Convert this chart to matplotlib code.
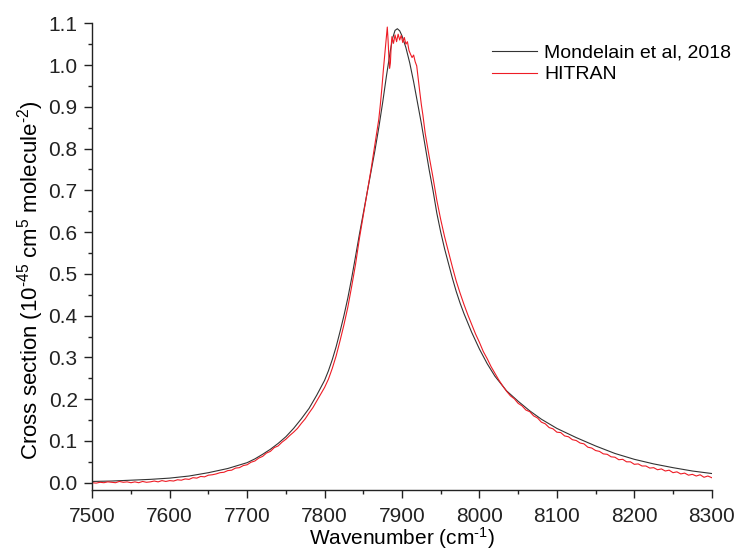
import numpy as np
import matplotlib
matplotlib.use("Agg")
import matplotlib.pyplot as plt
from matplotlib.ticker import MultipleLocator

plt.rcParams['font.family'] = ['Liberation Sans', 'DejaVu Sans']
plt.rcParams['mathtext.fontset'] = 'custom'
plt.rcParams['mathtext.rm'] = 'Liberation Sans'
plt.rcParams['mathtext.it'] = 'Liberation Sans:italic'

# Mondelain et al, 2018 (smooth profile)
mond_x = [7500, 7525, 7550, 7575, 7600, 7625, 7650, 7675, 7700, 7710, 7720, 7730,
          7740, 7750, 7760, 7770, 7780, 7790, 7800, 7805, 7810, 7815, 7820, 7825,
          7830, 7835, 7840, 7845, 7850, 7855, 7860, 7865, 7870, 7875, 7880, 7885,
          7888, 7891, 7894, 7897, 7900, 7905, 7910, 7915, 7920, 7925, 7930, 7935,
          7940, 7945, 7950, 7955, 7960, 7965, 7970, 7975, 7980, 7990, 8000, 8010,
          8020, 8035, 8050, 8065, 8080, 8100, 8125, 8150, 8175, 8200, 8225, 8250,
          8275, 8300]
mond_y = [0.003, 0.004, 0.006, 0.008, 0.011, 0.016, 0.024, 0.034, 0.048, 0.057, 0.068, 0.080,
          0.094, 0.110, 0.130, 0.153, 0.178, 0.210, 0.245, 0.268, 0.295, 0.326, 0.362, 0.400,
          0.442, 0.490, 0.542, 0.595, 0.645, 0.695, 0.745, 0.795, 0.850, 0.910, 0.975, 1.035,
          1.065, 1.083, 1.087, 1.082, 1.070, 1.042, 1.005, 0.960, 0.910, 0.860, 0.805, 0.750,
          0.700, 0.645, 0.600, 0.560, 0.525, 0.490, 0.458, 0.430, 0.405, 0.360, 0.320, 0.285,
          0.255, 0.220, 0.195, 0.172, 0.152, 0.130, 0.108, 0.088, 0.070, 0.056, 0.045, 0.036,
          0.028, 0.022]

# HITRAN (noisy)
hitran_x = (list(range(7500, 7865, 5))
            + [7865, 7868, 7870, 7872, 7874, 7876, 7878, 7880, 7881, 7882, 7883, 7884,
               7885, 7886, 7887, 7889, 7891, 7893, 7895, 7897, 7899, 7901, 7903, 7905,
               7907, 7909, 7911, 7913, 7915, 7917, 7919, 7921, 7923, 7925, 7927]
            + list(range(7930, 8305, 5)))
hitran_y = [0.000, -0.001, 0.001, 0.000, 0.002, 0.001, 0.000, 0.003, 0.001, 0.002,
            0.000, 0.002, 0.000, 0.003, 0.001, 0.002, 0.004, 0.002, 0.005, 0.003,
            0.005, 0.004, 0.007, 0.006, 0.009, 0.008, 0.012, 0.011, 0.015, 0.014,
            0.018, 0.019, 0.021, 0.024, 0.025, 0.029, 0.030, 0.035, 0.036, 0.041,
            0.043, 0.049, 0.052, 0.059, 0.063, 0.071, 0.075, 0.084, 0.088, 0.097,
            0.104, 0.113, 0.121, 0.130, 0.142, 0.153, 0.167, 0.180, 0.196, 0.212,
            0.228, 0.248, 0.274, 0.304, 0.340, 0.378, 0.420, 0.470, 0.523, 0.585,
            0.640, 0.695, 0.750,
            0.810, 0.845, 0.870, 0.905, 0.945, 0.990, 1.030, 1.070, 1.091, 1.060, 1.020, 0.992,
            1.005, 1.045, 1.068, 1.052, 1.072, 1.056, 1.074, 1.060, 1.071, 1.054, 1.066, 1.050,
            1.056, 1.035, 1.026, 1.018, 1.024, 1.008, 0.998, 0.966, 0.935, 0.905, 0.880,
            0.836, 0.782, 0.731, 0.676, 0.630, 0.589, 0.553, 0.517, 0.483, 0.454,
            0.427, 0.402, 0.379, 0.356, 0.336, 0.314, 0.297, 0.278, 0.262, 0.246,
            0.232, 0.219, 0.208, 0.201, 0.190, 0.184, 0.174, 0.170, 0.160, 0.155,
            0.145, 0.141, 0.132, 0.129, 0.121, 0.120, 0.112, 0.110, 0.103, 0.101,
            0.095, 0.093, 0.085, 0.083, 0.077, 0.075, 0.069, 0.068, 0.062, 0.061,
            0.055, 0.056, 0.050, 0.050, 0.044, 0.045, 0.040, 0.040, 0.035, 0.036,
            0.031, 0.033, 0.028, 0.030, 0.024, 0.026, 0.021, 0.023, 0.018, 0.020,
            0.016, 0.019, 0.013, 0.016, 0.012]

fig = plt.figure(figsize=(7.4, 5.52), dpi=100)
ax = fig.add_axes([0.1247, 0.1123, 0.8371, 0.8455])

ax.plot(mond_x, mond_y, color='#333333', lw=0.8, label='Mondelain et al, 2018')
ax.plot(hitran_x, hitran_y, color='#ee1c25', lw=0.8, label='HITRAN')

ax.set_xlim(7500, 8300)
ax.set_ylim(-0.0175, 1.1)
ax.xaxis.set_major_locator(MultipleLocator(100))
ax.xaxis.set_minor_locator(MultipleLocator(50))
ax.yaxis.set_major_locator(MultipleLocator(0.1))
ax.yaxis.set_minor_locator(MultipleLocator(0.05))
ax.yaxis.set_major_formatter(plt.FormatStrFormatter('%.1f'))

for s in ['top', 'right']:
    ax.spines[s].set_visible(False)
for s in ['left', 'bottom']:
    ax.spines[s].set_color('#222222')
    ax.spines[s].set_linewidth(1.0)

ax.tick_params(which='major', direction='out', length=5.5, width=1, labelsize=15,
               colors='#222222', pad=5)
ax.tick_params(axis='x', which='major', pad=7)
ax.tick_params(which='minor', direction='out', length=3, width=1, colors='#222222')

ax.set_xlabel(r'Wavenumber (cm$^{\text{-1}}$)', fontsize=15)
ax.xaxis.set_label_coords(0.5, -0.076)
ax.set_ylabel(r'Cross section (10$^{\text{-45}}$ cm$^{5}$ molecule$^{\text{-2}}$)', fontsize=16)
ax.yaxis.set_label_coords(-0.074, 0.45)

ax.legend(loc='upper left', bbox_to_anchor=(0.645, 0.955), frameon=False, fontsize=14,
          borderpad=0, borderaxespad=0, handlelength=2.3, handletextpad=0.4,
          labelspacing=0.2)

fig.savefig('out.png', dpi=100)
